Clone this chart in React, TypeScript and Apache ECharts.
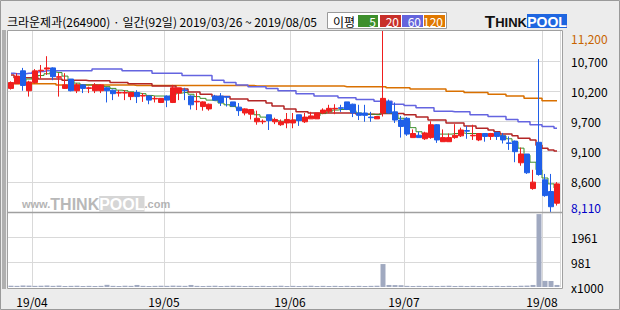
import React, { useEffect, useRef } from "react";
import * as echarts from "echarts";

const FONT = '"Noto Sans CJK KR", "Noto Sans", sans-serif';

const titleText = "크라운제과(264900) · 일간(92일) 2019/03/26 ~ 2019/08/05";
const legendLabel = "이평";
const maNames = ["5", "20", "60", "120"];
const maColors = ["#3d8f2c", "#b32626", "#6464e0", "#d97000"];
const legendBoxColors = ["#3d8f2c", "#c8302a", "#6464dc", "#e07800"];

const dates = [
  "2019/03/26", "2019/03/27", "2019/03/28", "2019/03/29",
  "2019/04/01", "2019/04/02", "2019/04/03", "2019/04/04", "2019/04/05", "2019/04/08", "2019/04/09", "2019/04/10", "2019/04/11", "2019/04/12",
  "2019/04/15", "2019/04/16", "2019/04/17", "2019/04/18", "2019/04/19", "2019/04/22", "2019/04/23", "2019/04/24", "2019/04/25", "2019/04/26",
  "2019/04/29", "2019/04/30",
  "2019/05/02", "2019/05/03", "2019/05/07", "2019/05/08", "2019/05/09", "2019/05/10", "2019/05/13", "2019/05/14", "2019/05/15", "2019/05/16",
  "2019/05/17", "2019/05/20", "2019/05/21", "2019/05/22", "2019/05/23", "2019/05/24", "2019/05/27", "2019/05/28", "2019/05/29", "2019/05/30",
  "2019/05/31",
  "2019/06/03", "2019/06/04", "2019/06/05", "2019/06/07", "2019/06/10", "2019/06/11", "2019/06/12", "2019/06/13", "2019/06/14", "2019/06/17",
  "2019/06/18", "2019/06/19", "2019/06/20", "2019/06/21", "2019/06/24", "2019/06/25", "2019/06/26", "2019/06/27", "2019/06/28",
  "2019/07/01", "2019/07/02", "2019/07/03", "2019/07/04", "2019/07/05", "2019/07/08", "2019/07/09", "2019/07/10", "2019/07/11", "2019/07/12",
  "2019/07/15", "2019/07/16", "2019/07/17", "2019/07/18", "2019/07/19", "2019/07/22", "2019/07/23", "2019/07/24", "2019/07/25", "2019/07/26",
  "2019/07/29", "2019/07/30", "2019/07/31",
  "2019/08/01", "2019/08/02", "2019/08/05",
];

const opens = [
  10220, 10300, 10520, 10180, 10320, 10520, 10550, 10570, 10410, 10220,
  10380, 10180, 10280, 10220, 10180, 10180, 10230, 10190, 10140, 10140,
  10080, 10150, 10090, 10090, 10040, 9980, 10090, 9980, 10140, 10190,
  10090, 9990, 9910, 9870, 10090, 10090, 10080, 9990, 9900, 9800,
  9780, 9650, 9650, 9770, 9650, 9600, 9630, 9630, 9770, 9650,
  9700, 9700, 9800, 9830, 9870, 9890, 9990, 9950, 9800, 9800,
  9730, 9700, 9800, 9990, 9820, 9680, 9710, 9380, 9420, 9360,
  9380, 9600, 9310, 9310, 9380, 9410, 9500, 9410, 9340, 9450,
  9400, 9470, 9410, 9290, 9320, 8950, 9100, 8510, 9300, 8660,
  8460, 8260,
];
const closes = [
  10320, 10430, 10270, 10330, 10520, 10530, 10570, 10420, 10420, 10280,
  10180, 10280, 10220, 10230, 10280, 10280, 10180, 10130, 10150, 10150,
  10150, 10080, 10100, 10020, 10050, 10050, 10020, 10230, 10230, 10180,
  9940, 10000, 9990, 9950, 10020, 9980, 10070, 9920, 9840, 9870,
  9860, 9710, 9660, 9670, 9690, 9650, 9690, 9680, 9670, 9730,
  9750, 9800, 9850, 9880, 9880, 9880, 9860, 9800, 9760, 9760,
  9720, 9740, 10050, 9800, 9680, 9570, 9440, 9450, 9380, 9460,
  9600, 9340, 9380, 9380, 9420, 9510, 9490, 9420, 9450, 9400,
  9450, 9400, 9340, 9280, 9140, 9100, 8780, 8620, 8750, 8390,
  8200, 8590,
];
const lows = [
  10200, 10300, 10180, 10080, 10300, 10390, 10450, 10360, 10080, 10210,
  10170, 10140, 10140, 10140, 10140, 10140, 9980, 10020, 10080, 10020,
  10020, 9970, 9990, 9950, 9980, 9970, 9900, 9970, 10020, 10020,
  9860, 9850, 9840, 9840, 10010, 9920, 9910, 9910, 9750, 9760,
  9690, 9600, 9610, 9510, 9610, 9580, 9540, 9540, 9580, 9630,
  9700, 9700, 9780, 9800, 9780, 9820, 9850, 9730, 9680, 9650,
  9650, 9700, 9740, 9790, 9630, 9380, 9410, 9380, 9380, 9340,
  9360, 9290, 9310, 9310, 9360, 9390, 9360, 9340, 9320, 9310,
  9340, 9340, 9280, 9170, 8960, 8900, 8760, 8490, 8730, 8370,
  8110, 8220,
];
const highs = [
  10340, 10480, 10570, 10350, 10550, 10620, 10770, 10580, 10480, 10480,
  10380, 10310, 10290, 10250, 10310, 10290, 10240, 10200, 10190, 10190,
  10160, 10190, 10140, 10100, 10090, 10050, 10100, 10280, 10230, 10230,
  10100, 10140, 10000, 9960, 10110, 10140, 10090, 9990, 9970, 9880,
  9860, 9840, 9690, 9770, 9720, 9690, 9800, 9800, 9770, 9800,
  9820, 9800, 9880, 9940, 9950, 9940, 9990, 9960, 9940, 9940,
  9820, 9740, 11200, 10030, 9980, 9750, 9730, 9520, 9480, 9480,
  9660, 9610, 9520, 9450, 9610, 9550, 9580, 9600, 9450, 9450,
  9460, 9470, 9460, 9400, 9330, 9210, 9100, 8830, 10720, 8760,
  8760, 8620,
];

const ma5 = [
  10310, 10320, 10330, 10380, 10420, 10440, 10470, 10500, 10490, 10430,
  10350, 10310, 10280, 10280, 10280, 10270, 10250, 10220, 10190, 10180,
  10160, 10140, 10130, 10100, 10090, 10090, 10080, 10110, 10140, 10150,
  10120, 10080, 10050, 10020, 10010, 9970, 9940, 9910, 9880, 9850,
  9830, 9770, 9730, 9710, 9670, 9660, 9670, 9680, 9680, 9710,
  9730, 9750, 9790, 9820, 9850, 9860, 9860, 9840, 9800, 9780,
  9780, 9770, 9800, 9800, 9780, 9710, 9660, 9550, 9480, 9440,
  9450, 9440, 9440, 9440, 9450, 9460, 9450, 9450, 9440, 9440,
  9430, 9420, 9410, 9360, 9310, 9200, 9080, 8960, 8830, 8690,
  8590, 8520,
];
const ma20 = [
  10450, 10400, 10400, 10400, 10400, 10380, 10380, 10380, 10380, 10360,
  10360, 10360, 10360, 10350, 10350, 10350, 10350, 10320, 10320, 10320,
  10300, 10300, 10300, 10300, 10260, 10260, 10260, 10260, 10210, 10210,
  10160, 10160, 10120, 10120, 10080, 10080, 10080, 10040, 10040, 10040,
  10010, 10010, 10010, 9970, 9920, 9920, 9870, 9870, 9820, 9820,
  9800, 9800, 9800, 9800, 9800, 9800, 9800, 9800, 9780, 9780,
  9780, 9780, 9790, 9790, 9790, 9790, 9770, 9770, 9730, 9730,
  9680, 9680, 9680, 9630, 9630, 9630, 9580, 9580, 9540, 9540,
  9510, 9480, 9440, 9440, 9410, 9370, 9370, 9340, 9250, 9200,
  9170, 9150,
];
const ma60 = [
  10480, 10470, 10470, 10480, 10500, 10510, 10520, 10520, 10520, 10520,
  10520, 10520, 10520, 10520, 10550, 10550, 10550, 10550, 10550, 10520,
  10520, 10520, 10520, 10520, 10480, 10480, 10480, 10480, 10480, 10440,
  10440, 10440, 10440, 10440, 10360, 10360, 10320, 10320, 10280, 10280,
  10250, 10250, 10250, 10220, 10220, 10180, 10180, 10180, 10130, 10130,
  10130, 10090, 10090, 10090, 10090, 10060, 10060, 10060, 10030, 10030,
  10030, 10000, 10000, 10000, 9950, 9950, 9930, 9930, 9890, 9890,
  9890, 9830, 9830, 9830, 9820, 9820, 9820, 9770, 9770, 9770,
  9740, 9740, 9740, 9690, 9690, 9650, 9650, 9600, 9600, 9570,
  9570, 9540,
];
const ma120 = [
  10300, 10300, 10300, 10300, 10300, 10300, 10300, 10300, 10280, 10280,
  10280, 10280, 10280, 10280, 10280, 10280, 10280, 10280, 10280, 10280,
  10280, 10270, 10270, 10270, 10270, 10270, 10270, 10270, 10270, 10270,
  10270, 10270, 10270, 10270, 10270, 10270, 10270, 10270, 10270, 10270,
  10270, 10260, 10260, 10260, 10260, 10260, 10260, 10260, 10260, 10260,
  10260, 10260, 10260, 10260, 10260, 10260, 10250, 10250, 10250, 10250,
  10250, 10250, 10250, 10230, 10230, 10230, 10230, 10210, 10210, 10210,
  10210, 10210, 10210, 10170, 10170, 10170, 10150, 10150, 10150, 10150,
  10120, 10120, 10120, 10090, 10090, 10090, 10050, 10050, 10050, 10010,
  10010, 10010,
];

const volumes = [
  50, 45, 60, 55, 45, 50, 60, 45, 55, 40, 45, 50, 40, 45, 40, 45,
  85,
  45, 40, 50, 45,
  80,
  45, 40, 45, 50, 45, 55, 50, 45,
  80,
  45, 40, 45, 50, 40, 45, 50, 45, 40, 45, 40, 45, 40, 45, 50, 40, 45, 40, 45, 50,
  40, 45, 40, 45, 40, 45, 40, 45, 40, 45, 50,
  900,
  80, 75, 70,
  45, 40, 45, 40, 45, 40, 45, 50, 40, 45, 40, 45, 40, 45, 40, 45, 40, 45, 40, 50, 55,
  80, 2860, 240, 235, 80,
];

const priceMin = 8110;
const priceMax = 11200;
const priceTickLabels = ["8,110", "8,600", "9,100", "9,700", "10,200", "10,700", "11,200"];
const volMax = 2942;
const volTickLabels = ["x1000", "981", "1961", ""];

const monthStart = dates.map((d, i) => i > 0 && d.slice(5, 7) !== dates[i - 1].slice(5, 7));

const GRID_COLOR = "#d9d9d9";
const FRAME_COLOR = "#a0a0a0";

function buildOption(): any {
  const helperAxisCommon = {
    type: "value",
    position: "right",
    interval: 1,
    axisLine: { show: false },
    axisTick: { show: false },
    splitLine: { show: true, showMinLine: false, showMaxLine: false, lineStyle: { color: GRID_COLOR, width: 1 } },
  };
  return {
    animation: false,
    backgroundColor: "#ececec",
    textStyle: { fontFamily: FONT },
    grid: [
      { left: 8, top: 31, width: 552, height: 181 },
      { left: 8, top: 212, width: 552, height: 75 },
    ],
    xAxis: [
      {
        type: "category", gridIndex: 0, data: dates, boundaryGap: true,
        axisLine: { show: false }, axisTick: { show: false }, axisLabel: { show: false },
        splitLine: { show: true, interval: (i: number) => monthStart[i], lineStyle: { color: GRID_COLOR, width: 1 } },
      },
      {
        type: "category", gridIndex: 1, data: dates, boundaryGap: true,
        axisLine: { show: false }, axisTick: { show: false },
        axisLabel: {
          show: true, interval: (i: number) => monthStart[i],
          formatter: (v: string) => v.slice(2, 7),
          margin: 8, padding: [0, 6, 0, 0], fontSize: 12, color: "#000", fontFamily: FONT,
        },
        splitLine: { show: true, interval: (i: number) => monthStart[i], lineStyle: { color: GRID_COLOR, width: 1 } },
      },
    ],
    yAxis: [
      { type: "value", gridIndex: 0, min: priceMin, max: priceMax, show: false },
      {
        ...helperAxisCommon, gridIndex: 0, min: 0, max: priceTickLabels.length - 1,
        axisLabel: {
          margin: 11, fontSize: 12, color: "#000", fontFamily: FONT,
          formatter: (v: number) => {
            const k = Math.round(v);
            if (k === priceTickLabels.length - 1) return `{mx|${priceTickLabels[k]}}`;
            if (k === 0) return `{mn|${priceTickLabels[k]}}`;
            return priceTickLabels[k];
          },
          rich: {
            mx: { color: "#c86400", fontSize: 12, fontFamily: FONT, padding: [14, 0, 0, 0] },
            mn: { color: "#0000c8", fontSize: 12, fontFamily: FONT, padding: [0, 0, 10, 0] },
          },
        },
      },
      { type: "value", gridIndex: 1, min: 0, max: volMax, show: false },
      {
        ...helperAxisCommon, gridIndex: 1, min: 0, max: volTickLabels.length - 1,
        axisLabel: {
          margin: 11, fontSize: 12, color: "#000", fontFamily: FONT,
          formatter: (v: number) => volTickLabels[Math.round(v)] ?? "",
        },
      },
    ],
    series: [
      { type: "line", name: "MA120", xAxisIndex: 0, yAxisIndex: 0, data: ma120, step: "middle", symbol: "none", lineStyle: { color: maColors[3], width: 1.5 }, z: 2 },
      { type: "line", name: "MA60", xAxisIndex: 0, yAxisIndex: 0, data: ma60, step: "middle", symbol: "none", lineStyle: { color: maColors[2], width: 1.5 }, z: 2 },
      { type: "line", name: "MA20", xAxisIndex: 0, yAxisIndex: 0, data: ma20, step: "middle", symbol: "none", lineStyle: { color: maColors[1], width: 1.5 }, z: 2 },
      { type: "line", name: "MA5", xAxisIndex: 0, yAxisIndex: 0, data: ma5, step: "middle", symbol: "none", lineStyle: { color: maColors[0], width: 1 }, z: 2 },
      {
        type: "candlestick", name: "price", xAxisIndex: 0, yAxisIndex: 0, barWidth: 5, z: 3,
        data: dates.map((_, i) => [opens[i], closes[i], lows[i], highs[i]]),
        itemStyle: { color: "#f01e1e", color0: "#1f5fe8", borderColor: "#f01e1e", borderColor0: "#1f5fe8", borderWidth: 1 },
      },
      {
        type: "bar", name: "volume", xAxisIndex: 1, yAxisIndex: 2, barWidth: 5, data: volumes,
        itemStyle: { color: "#a0a9c0" },
      },
    ],
    graphic: [
      { type: "rect", z: -10, shape: { x: 7, y: 30, width: 556, height: 259 }, style: { fill: "#ffffff" } },
      { type: "rect", z: 100, shape: { x: 0.5, y: 0.5, width: 619, height: 309 }, style: { fill: "none", stroke: "#9a9a9a", lineWidth: 1 } },
      { type: "rect", z: 100, shape: { x: 7.5, y: 30.5, width: 555, height: 258 }, style: { fill: "none", stroke: FRAME_COLOR, lineWidth: 1 } },
      { type: "line", z: 100, shape: { x1: 7.5, y1: 212.5, x2: 562.5, y2: 212.5 }, style: { stroke: FRAME_COLOR, lineWidth: 1.5 } },
      { type: "rect", z: 100, shape: { x: 2, y: 30, width: 4, height: 259 }, style: { fill: "#b0b0b0" } },
      {
        type: "text", z: 100, x: 7, y: 21.5,
        style: { text: titleText, fontSize: 12, fontFamily: FONT, fill: "#000", verticalAlign: "middle", align: "left" },
      },
      { type: "rect", z: 100, shape: { x: 327.5, y: 12.5, width: 119, height: 16 }, style: { fill: "#ffffff", stroke: "#9a9a9a", lineWidth: 1 } },
      {
        type: "text", z: 101, x: 333, y: 21,
        style: { text: legendLabel, fontSize: 12, fontFamily: FONT, fill: "#000", verticalAlign: "middle", align: "left" },
      },
      ...[[358, 20], [380, 21], [402, 21], [424, 21]].flatMap(([x, w], k) => [
        { type: "rect", z: 101, shape: { x, y: 15, width: w, height: 12 }, style: { fill: legendBoxColors[k] } },
        {
          type: "text", z: 102, x: x + w - 2, y: 21.5,
          style: { text: maNames[k], fontSize: 12, fontFamily: FONT, fill: "#fff", verticalAlign: "middle", align: "right" },
        },
      ]),
      {
        type: "text", z: 101, x: 527, y: 22,
        style: {
          text: "{t|T}{h|HINK}", verticalAlign: "middle", align: "right",
          rich: {
            t: { fontSize: 17, fontWeight: "bold", fontFamily: "Liberation Sans", fill: "#111" },
            h: { fontSize: 13, fontWeight: "bold", fontFamily: "Liberation Sans", fill: "#111" },
          },
        },
      },
      { type: "rect", z: 101, shape: { x: 527, y: 14, width: 40, height: 14 }, style: { fill: "#1f66e0" } },
      {
        type: "text", z: 102, x: 547, y: 21.5,
        style: { text: "POOL", fontSize: 14, fontWeight: "bold", fontFamily: "Liberation Sans", fill: "#fff", verticalAlign: "middle", align: "center" },
      },
      {
        type: "text", z: 100, x: 22, y: 204,
        style: {
          text: "{w|www.}{k|THINK}{p|POOL}{w|.com}", verticalAlign: "middle", align: "left",
          rich: {
            w: { fontSize: 11, fontFamily: "Liberation Sans", fill: "#b4b4b4", fontWeight: "bold" },
            k: { fontSize: 16, fontFamily: "Liberation Sans", fill: "#b8b8b8", fontWeight: "bold" },
            p: { fontSize: 16, fontFamily: "Liberation Sans", fill: "#ffffff", fontWeight: "bold", backgroundColor: "#d6d6d6" },
          },
        },
      },
    ],
  };
}

export default function App() {
  const ref = useRef<HTMLDivElement>(null);
  useEffect(() => {
    if (!ref.current) return;
    const chart = echarts.init(ref.current, undefined, { renderer: "svg" });
    chart.setOption(buildOption());
    return () => chart.dispose();
  }, []);
  return <div ref={ref} style={{ position: "fixed", left: 0, top: 0, width: 620, height: 310 }} />;
}
